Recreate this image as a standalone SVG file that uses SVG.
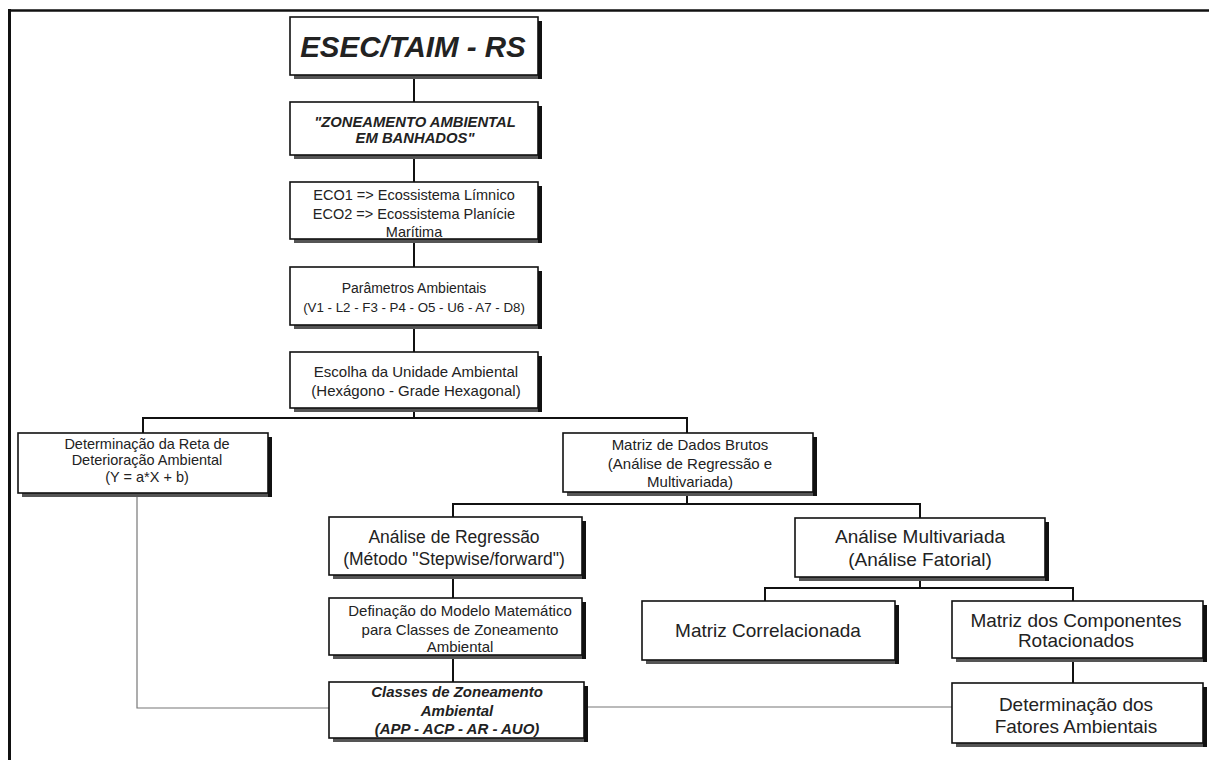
<svg xmlns="http://www.w3.org/2000/svg" width="1209" height="760" viewBox="0 0 1209 760">
<style>
.sh{fill:#555}
.shr{fill:#111}
.bx{fill:#fff;stroke:#111;stroke-width:1.6}
.t{font-family:"Liberation Sans",Arial,sans-serif;fill:#222;text-anchor:middle}
.bi{font-weight:bold;font-style:italic}
.c{fill:none;stroke:#111;stroke-width:2}
.g{fill:none;stroke:#777;stroke-width:1.2}
</style>
<rect width="1209" height="760" fill="#fff"/>
<g id="frame">
<path d="M8 10.5H1209" stroke="#111" stroke-width="2.5" fill="none"/>
<path d="M9.5 9V760" stroke="#111" stroke-width="3" fill="none"/>
</g>
<g id="connectors">
<path class="c" d="M414 75V102M414 155V182M414 239V267M414 325V352M414 408V418"/>
<path class="c" d="M143 433V418H687V433"/>
<path class="c" d="M687 492V504M453 517V504H920V518"/>
<path class="c" d="M453 575V598M453 655V682"/>
<path class="c" d="M920 577V588M765 601V588H1073V601"/>
<path class="c" d="M1073 658V683"/>
<path class="g" d="M137 493V708H329"/>
<path class="g" d="M584 707H952"/>
</g>
<g id="n1">
<rect class="sh" x="294" y="21" width="248" height="58"/><rect class="shr" x="538" y="21" width="4" height="58"/>
<rect class="bx" x="290" y="17" width="248" height="58"/>
<text class="t bi" x="413" y="57" font-size="29.5">ESEC/TAIM - RS</text>
</g>
<g id="n2">
<rect class="sh" x="294" y="106" width="248" height="53"/><rect class="shr" x="538" y="106" width="4" height="53"/>
<rect class="bx" x="290" y="102" width="248" height="53"/>
<text class="t bi" x="415" y="127" font-size="14.8">"ZONEAMENTO AMBIENTAL</text>
<text class="t bi" x="415" y="143" font-size="14.8">EM BANHADOS"</text>
</g>
<g id="n3">
<rect class="sh" x="294" y="186" width="248" height="57"/><rect class="shr" x="538" y="186" width="4" height="57"/>
<rect class="bx" x="290" y="182" width="248" height="57"/>
<text class="t" x="414" y="200" font-size="14.5">ECO1 =&gt; Ecossistema Límnico</text>
<text class="t" x="414" y="219" font-size="14.5">ECO2 =&gt; Ecossistema Planície</text>
<text class="t" x="414" y="237" font-size="14.5">Marítima</text>
</g>
<g id="n4">
<rect class="sh" x="294" y="271" width="248" height="58"/><rect class="shr" x="538" y="271" width="4" height="58"/>
<rect class="bx" x="290" y="267" width="248" height="58"/>
<text class="t" x="414" y="293" font-size="14">Parâmetros Ambientais</text>
<text class="t" x="414" y="312" font-size="13.3">(V1 - L2 - F3 - P4 - O5 - U6 - A7 - D8)</text>
</g>
<g id="n5">
<rect class="sh" x="294" y="356" width="248" height="56"/><rect class="shr" x="538" y="356" width="4" height="56"/>
<rect class="bx" x="290" y="352" width="248" height="56"/>
<text class="t" x="416" y="377" font-size="15">Escolha da Unidade Ambiental</text>
<text class="t" x="416" y="396" font-size="15">(Hexágono - Grade Hexagonal)</text>
</g>
<g id="n6">
<rect class="sh" x="22" y="437" width="250" height="60"/><rect class="shr" x="268" y="437" width="4" height="60"/>
<rect class="bx" x="18" y="433" width="250" height="60"/>
<text class="t" x="147" y="449" font-size="14.5">Determinação da Reta de</text>
<text class="t" x="147" y="465" font-size="14.5">Deterioração Ambiental</text>
<text class="t" x="147" y="482" font-size="14.5">(Y = a*X + b)</text>
</g>
<g id="n7">
<rect class="sh" x="567" y="437" width="250" height="59"/><rect class="shr" x="813" y="437" width="4" height="59"/>
<rect class="bx" x="563" y="433" width="250" height="59"/>
<text class="t" x="690" y="450" font-size="15">Matriz de Dados Brutos</text>
<text class="t" x="690" y="469" font-size="15">(Análise de Regressão e</text>
<text class="t" x="690" y="487" font-size="15">Multivariada)</text>
</g>
<g id="n8">
<rect class="sh" x="333" y="521" width="253" height="58"/><rect class="shr" x="582" y="521" width="4" height="58"/>
<rect class="bx" x="329" y="517" width="253" height="58"/>
<text class="t" x="454" y="543" font-size="17.5">Análise de Regressão</text>
<text class="t" x="454" y="565" font-size="17.5">(Método "Stepwise/forward")</text>
</g>
<g id="n9">
<rect class="sh" x="333" y="602" width="253" height="57"/><rect class="shr" x="582" y="602" width="4" height="57"/>
<rect class="bx" x="329" y="598" width="253" height="57"/>
<text class="t" x="460" y="616" font-size="15">Definação do Modelo Matemático</text>
<text class="t" x="460" y="635" font-size="15">para Classes de Zoneamento</text>
<text class="t" x="460" y="652" font-size="15">Ambiental</text>
</g>
<g id="n10">
<rect class="sh" x="333" y="686" width="255" height="56"/><rect class="shr" x="584" y="686" width="4" height="56"/>
<rect class="bx" x="329" y="682" width="255" height="56"/>
<text class="t bi" x="457" y="697" font-size="15">Classes de Zoneamento</text>
<text class="t bi" x="457" y="716" font-size="15">Ambiental</text>
<text class="t bi" x="457" y="734" font-size="15">(APP - ACP - AR - AUO)</text>
</g>
<g id="n11">
<rect class="sh" x="799" y="522" width="250" height="59"/><rect class="shr" x="1045" y="522" width="4" height="59"/>
<rect class="bx" x="795" y="518" width="250" height="59"/>
<text class="t" x="920" y="543" font-size="19">Análise Multivariada</text>
<text class="t" x="920" y="566" font-size="19">(Análise Fatorial)</text>
</g>
<g id="n12">
<rect class="sh" x="646" y="605" width="253" height="59"/><rect class="shr" x="895" y="605" width="4" height="59"/>
<rect class="bx" x="642" y="601" width="253" height="59"/>
<text class="t" x="768" y="637" font-size="19">Matriz Correlacionada</text>
</g>
<g id="n13">
<rect class="sh" x="956" y="605" width="251" height="57"/><rect class="shr" x="1203" y="605" width="4" height="57"/>
<rect class="bx" x="952" y="601" width="251" height="57"/>
<text class="t" x="1076" y="627" font-size="19">Matriz dos Componentes</text>
<text class="t" x="1076" y="647" font-size="19">Rotacionados</text>
</g>
<g id="n14">
<rect class="sh" x="956" y="687" width="251" height="60"/><rect class="shr" x="1203" y="687" width="4" height="60"/>
<rect class="bx" x="952" y="683" width="251" height="60"/>
<text class="t" x="1076" y="711" font-size="19">Determinação dos</text>
<text class="t" x="1076" y="733" font-size="19">Fatores Ambientais</text>
</g>
</svg>
